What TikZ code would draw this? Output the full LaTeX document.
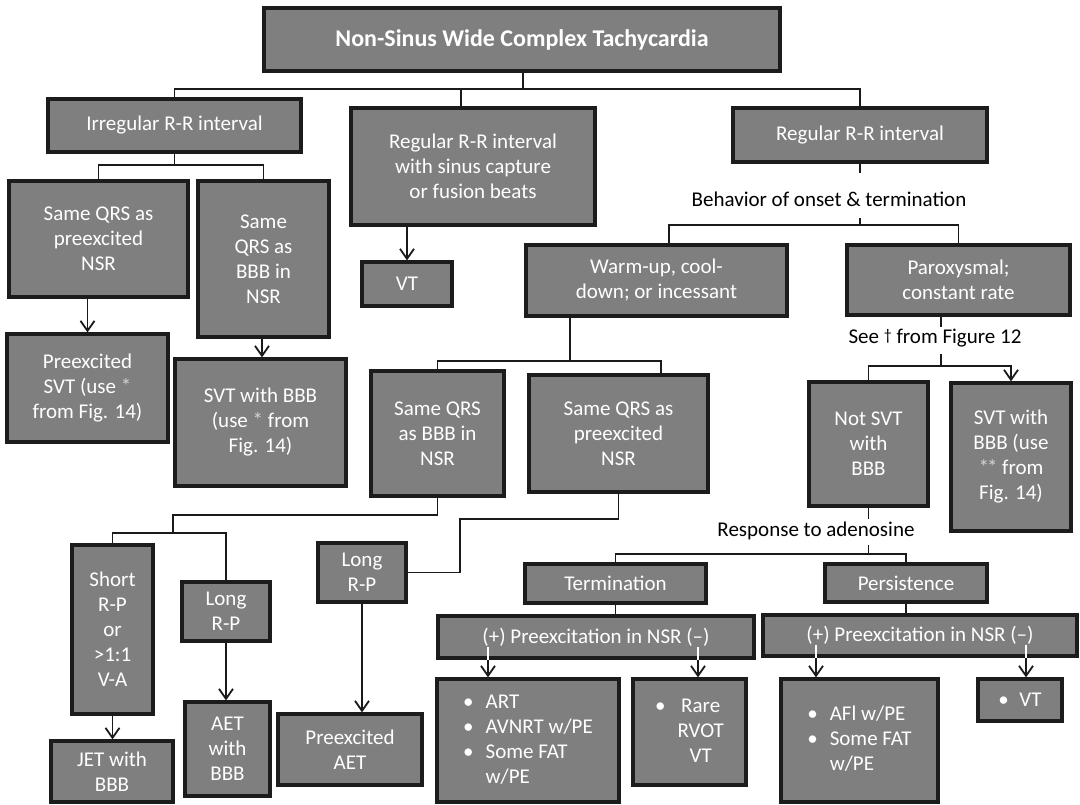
\documentclass[tikz,border=0pt]{standalone}
\usepackage{fontspec}
\setmainfont{Carlito}
\usetikzlibrary{arrows.meta}
\definecolor{boxfill}{HTML}{7F7F7F}
\definecolor{boxline}{HTML}{1C1C1C}
\definecolor{conline}{HTML}{1A1A1A}
\definecolor{astcol}{HTML}{D4D4D4}
\newcommand{\astc}[1]{{\color{astcol}#1}}
\tikzset{
  box/.style={draw=boxline, line width=2.4pt, fill=boxfill, text=white, inner sep=0pt,
    font=\fontsize{15.75}{18.75}\selectfont},
  cbox/.style={box, align=center},
  wh/.style 2 args={minimum width=#1*0.75pt, minimum height=#2*0.75pt},
  con/.style={draw=conline, line width=1.35pt},
  arr/.style={con, -{Straight Barb[length=7.5pt,width=10.5pt]}},
  lbl/.style={text=black, inner sep=0pt, font=\fontsize{15.75}{18.75}\selectfont},
  wseg/.style={draw=white, line width=1.35pt},
}
\begin{document}
\begin{tikzpicture}[x=0.75pt,y=-0.75pt]
\useasboundingbox (0,0) rectangle (1080,805);

% ---------- boxes ----------
\node[cbox, wh={516}{63}, font=\bfseries\fontsize{18}{22}\selectfont] (title) at (522,39.5) {Non-Sinus Wide Complex Tachycardia};
\node[cbox, wh={253}{53}] (irr) at (174.5,125.5) {Irregular R-R interval};
\node[cbox, wh={244}{117}] (regs) at (473,166.5) {Regular R-R interval\\with sinus capture\\or fusion beats};
\node[cbox, wh={254}{54}] (regr) at (860,135) {Regular R-R interval};
\node[cbox, wh={179}{116}] (sqpre1) at (98.5,239) {Same QRS as\\preexcited\\NSR};
\node[cbox, wh={131}{156}] (sqbbb1) at (263.5,259) {Same\\QRS as\\BBB in\\NSR};
\node[cbox, wh={90}{44}] (vt1) at (407,284) {VT};
\node[cbox, wh={161}{108}] (presvt) at (87.5,388) {Preexcited\\SVT (use \astc{*}\\from Fig. 14)};
\node[cbox, wh={171}{127}] (svtbbb1) at (260.5,422.5) {SVT with BBB\\(use \astc{*} from\\Fig. 14)};
\node[cbox, wh={261}{71}] (warm) at (656.5,280.5) {Warm-up, cool-\\down; or incessant};
\node[cbox, wh={223}{70}] (parox) at (958.5,280) {Paroxysmal;\\constant rate};
\node[cbox, wh={133}{125}] (sqbbb2) at (437.5,433.5) {Same QRS\\as BBB in\\NSR};
\node[cbox, wh={179}{117}] (sqpre2) at (618.5,433.5) {Same QRS as\\preexcited\\NSR};
\node[cbox, wh={119}{124}] (notsvt) at (868.5,444) {Not SVT\\with\\BBB};
\node[cbox, wh={120}{148}] (svtbbb2) at (1011,457) {SVT with\\BBB (use\\\astc{*\kern-1.5pt*} from\\Fig. 14)};
\node[cbox, wh={81}{169}] (short) at (112.5,629.5) {Short\\R-P\\or\\>1:1\\V-A};
\node[cbox, wh={88}{59}] (long1) at (226,611.5) {Long\\R-P};
\node[cbox, wh={88}{59}] (long2) at (362,572.5) {Long\\R-P};
\node[cbox, wh={122}{61}] (jet) at (112,771.5) {JET with\\BBB};
\node[cbox, wh={85}{94}] (aet) at (227.5,749) {AET\\with\\BBB};
\node[cbox, wh={144}{71}] (preaet) at (350,749.5) {Preexcited\\AET};
\node[cbox, wh={181}{39}] (term) at (615.5,583.5) {Termination};
\node[cbox, wh={162}{38}] (pers) at (906,583) {Persistence};
\node[cbox, wh={316}{42}] (pre1) at (596,637) {(+) Preexcitation in NSR (–)};
\node[cbox, wh={314}{41}] (pre2) at (920,635.5) {(+) Preexcitation in NSR (–)};
\node[box, wh={182}{123}] (art) at (528,740.5) {\begin{tabular}{@{}l@{\hspace{9pt}}l@{}}\textbullet&ART\\\textbullet&AVNRT w/PE\\\textbullet&Some FAT\\&w/PE\end{tabular}};
\node[box, wh={113}{106}] (rare) at (689.5,732) {\begin{tabular}{@{}l@{\hspace{9pt}}c@{}}\textbullet&Rare\\&RVOT\\&VT\end{tabular}};
\node[box, wh={157}{123}] (afl) at (859.5,740.5) {\begin{tabular}{@{}l@{\hspace{9pt}}l@{}}\textbullet&AFl w/PE\\\textbullet&Some FAT\\&w/PE\end{tabular}};
\node[box, wh={84}{42}] (vt2) at (1020,700) {\textbullet\hspace{8pt}VT};

% ---------- labels ----------
\node[lbl] (behav) at (829,199) {Behavior of onset \& termination};
\node[lbl] (see) at (935,338) {See \raisebox{2pt}{\fontsize{12}{12}\selectfont †} from Figure 12};
\node[lbl] (resp) at (816,531) {Response to adenosine};

% ---------- connectors ----------
\coordinate (j0) at (523,89);
\coordinate (js) at (461,89);
\draw[con] (title.south -| j0) -- (j0);
\draw[con] (irr.north) -- (irr.north |- j0) -- (regr.north |- j0) -- (regr.north);
\draw[con] (js) -- (js |- regs.north);

\coordinate (j1) at (174.5,165);
\draw[con] (irr.south) -- (j1);
\draw[con] (sqpre1.north) |- (sqbbb1.north |- j1) -- (sqbbb1.north);
\draw[arr] (presvt.north |- sqpre1.south) -- (presvt.north);
\coordinate (x262) at (262,340);
\draw[arr] (x262 |- sqbbb1.south) -- (x262 |- svtbbb1.north);
\draw[arr] (vt1.north |- regs.south) -- (vt1.north);

\coordinate (b1) at (860,173);
\coordinate (b2) at (860,218);
\coordinate (j2) at (860,225);
\coordinate (j2l) at (669,225);
\draw[con] (regr.south) -- (b1);
\draw[con] (b2) -- (j2);
\draw[con] (j2l |- warm.north) -- (j2l) -- (j2 -| parox.north) -- (parox.north);

\coordinate (j3) at (570,361);
\coordinate (j3r) at (661,361);
\draw[con] (j3 |- warm.south) -- (j3);
\draw[con] (sqbbb2.north) |- (j3r) -- (j3r |- sqpre2.north);

\coordinate (p1) at (941,327);
\coordinate (p2) at (941,354);
\coordinate (j4) at (941,366);
\draw[con] (p1 |- parox.south) -- (p1);
\draw[con] (p2) -- (j4);
\draw[arr] (notsvt.north) |- (svtbbb2.north |- j4) -- (svtbbb2.north);

\coordinate (r1) at (868.5,519);
\coordinate (r2) at (868.5,545);
\coordinate (j5) at (868.5,554);
\draw[con] (notsvt.south) -- (r1);
\draw[con] (r2) -- (j5);
\draw[con] (term.north) |- (pers.north |- j5) -- (pers.north);
\draw[con] (term.south) -- (term.south |- pre1.north);
\draw[con] (pers.south) -- (pers.south |- pre2.north);

\coordinate (w1) at (488,647);
\coordinate (w2) at (698,647);
\coordinate (w3) at (816,645);
\coordinate (w4) at (1026,645);
\draw[wseg] (w1) -- (w1 |- pre1.south);
\draw[arr] (w1 |- pre1.south) -- (w1 |- art.north);
\draw[wseg] (w2) -- (w2 |- pre1.south);
\draw[arr] (w2 |- pre1.south) -- (w2 |- rare.north);
\draw[wseg] (w3) -- (w3 |- pre2.south);
\draw[arr] (w3 |- pre2.south) -- (w3 |- afl.north);
\draw[wseg] (w4) -- (w4 |- pre2.south);
\draw[arr] (w4 |- pre2.south) -- (w4 |- vt2.north);

\coordinate (k2) at (173,515);
\coordinate (k3) at (173,533);
\draw[con] (sqbbb2.south) |- (k2) -- (k3);
\draw[con] (short.north) |- (long1.north |- k3) -- (long1.north);
\draw[arr] (short.south) -- (short.south |- jet.north);
\draw[arr] (long1.south) -- (long1.south |- aet.north);

\coordinate (m1) at (460,519);
\draw[con] (sqpre2.south) |- (m1) |- (long2.east);
\draw[arr] (long2.south) -- (long2.south |- preaet.north);
\end{tikzpicture}
\end{document}
